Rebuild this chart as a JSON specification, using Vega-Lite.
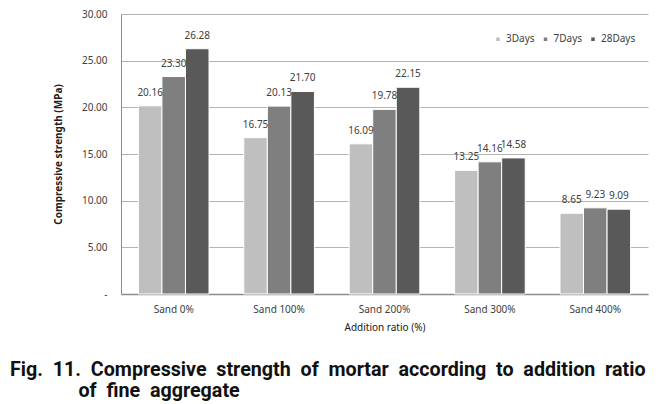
{
  "$schema": "https://vega.github.io/schema/vega-lite/v6.json",
  "autosize": {"type": "none"},
  "width": 527,
  "height": 280,
  "padding": {"left": 121, "top": 14, "right": 19, "bottom": 110},
  "background": "white",
  "config": {
    "font": "Noto Sans",
    "view": {"stroke": null},
    "axis": {"labelColor": "#404040", "titleColor": "#202020"}
  },
  "title": {
    "text": ["Fig.\u00a0\u00a011.\u00a0\u00a0Compressive\u00a0\u00a0strength\u00a0\u00a0of\u00a0\u00a0mortar\u00a0\u00a0according\u00a0\u00a0to\u00a0\u00a0addition\u00a0\u00a0ratio", "\u200b\u00a0\u00a0\u00a0\u00a0\u00a0\u00a0\u00a0\u00a0\u00a0\u00a0\u00a0\u00a0\u00a0\u00a0of\u00a0\u00a0fine\u00a0\u00a0aggregate"],
    "orient": "bottom",
    "anchor": "start",
    "frame": "group",
    "dx": -111,
    "offset": 28,
    "font": "Roboto",
    "fontSize": 19.7,
    "fontWeight": "bold",
    "color": "#111111",
    "lineHeight": 21
  },
  "data": {
    "values": [
      {"ratio": "Sand 0%", "age": "3Days", "value": 20.16},
      {"ratio": "Sand 0%", "age": "7Days", "value": 23.30},
      {"ratio": "Sand 0%", "age": "28Days", "value": 26.28},
      {"ratio": "Sand 100%", "age": "3Days", "value": 16.75},
      {"ratio": "Sand 100%", "age": "7Days", "value": 20.13},
      {"ratio": "Sand 100%", "age": "28Days", "value": 21.70},
      {"ratio": "Sand 200%", "age": "3Days", "value": 16.09},
      {"ratio": "Sand 200%", "age": "7Days", "value": 19.78},
      {"ratio": "Sand 200%", "age": "28Days", "value": 22.15},
      {"ratio": "Sand 300%", "age": "3Days", "value": 13.25},
      {"ratio": "Sand 300%", "age": "7Days", "value": 14.16},
      {"ratio": "Sand 300%", "age": "28Days", "value": 14.58},
      {"ratio": "Sand 400%", "age": "3Days", "value": 8.65},
      {"ratio": "Sand 400%", "age": "7Days", "value": 9.23},
      {"ratio": "Sand 400%", "age": "28Days", "value": 9.09}
    ]
  },
  "encoding": {
    "x": {
      "field": "ratio", "type": "nominal", "sort": null,
      "scale": {"paddingInner": 0.33, "paddingOuter": 0.165},
      "axis": {
        "title": "Addition ratio (%)", "labelAngle": 0, "ticks": false,
        "labelFontSize": 10, "labelPadding": 10, "titleFontSize": 10,
        "titleFontWeight": "normal", "titlePadding": 8,
        "domainColor": "#8c8c8c", "domainWidth": 1.5
      }
    },
    "y": {
      "field": "value", "type": "quantitative",
      "scale": {"domain": [0, 30], "nice": false},
      "axis": {
        "title": "Compressive strength (MPa)", "values": [0, 5, 10, 15, 20, 25, 30],
        "labelExpr": "datum.value === 0 ? '-' : format(datum.value, '.2f')",
        "ticks": false, "labelFontSize": 10, "labelPadding": 14,
        "titleFontSize": 10, "titleFontWeight": "bold", "titlePadding": 18,
        "gridColor": "#b3b3b3", "gridWidth": 1, "domainColor": "#8c8c8c"
      }
    },
    "xOffset": {"field": "age", "type": "nominal", "sort": ["3Days", "7Days", "28Days"]}
  },
  "layer": [
    {
      "mark": {"type": "bar", "stroke": "white", "strokeWidth": 1},
      "encoding": {
        "color": {
          "field": "age", "type": "nominal", "sort": ["3Days", "7Days", "28Days"],
          "scale": {"domain": ["3Days", "7Days", "28Days"], "range": ["#bfbfbf", "#7f7f7f", "#595959"]},
          "legend": {
            "title": null, "orient": "none", "legendX": 372, "legendY": 20,
            "direction": "horizontal", "symbolType": "square", "symbolSize": 25,
            "labelFontSize": 10, "labelColor": "#404040", "columnPadding": 4.5, "labelOffset": 3
          }
        }
      }
    },
    {
      "mark": {"type": "text", "baseline": "bottom", "dy": -8, "fontSize": 10, "color": "#404040"},
      "encoding": {
        "text": {"field": "value", "type": "quantitative", "format": ".2f"}
      }
    }
  ]
}
